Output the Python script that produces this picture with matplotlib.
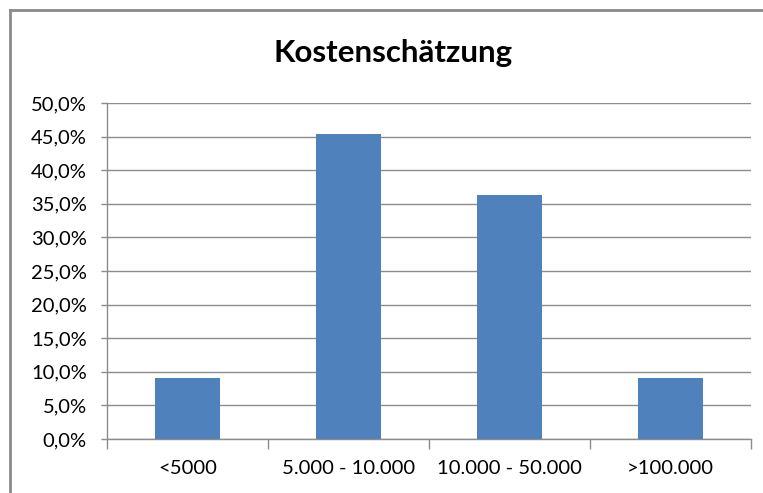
import matplotlib
matplotlib.use("Agg")
import matplotlib.pyplot as plt
from matplotlib.lines import Line2D
from matplotlib.ticker import FuncFormatter, MultipleLocator

categories = ["<5000", "5.000 - 10.000", "10.000 - 50.000", ">100.000"]
values = [9.09, 45.45, 36.36, 9.09]
title = "Kostenschätzung"

plt.rcParams['font.family'] = ['Lato', 'DejaVu Sans']

fig = plt.figure(figsize=(7.63, 4.93), dpi=100)
ax = fig.add_axes([107/763, 1 - 439/493, (751-107)/763, (439-103)/493])

x = list(range(len(categories)))
ax.bar(x, values, width=0.4, color="#4F81BD", zorder=3)
ax.set_xlim(-0.5, len(categories) - 0.5)
ax.set_ylim(0, 50)
ax.yaxis.set_major_locator(MultipleLocator(5))
ax.yaxis.set_major_formatter(FuncFormatter(lambda v, p: f"{v:.1f}".replace(".", ",") + "%"))
ax.grid(axis="y", color="#8c8c8c", linewidth=1, zorder=0)

ax.set_xticks(x)
ax.set_xticklabels(categories)
ax.set_xticks([i - 0.5 for i in range(len(categories) + 1)], minor=True)
ax.tick_params(axis="x", which="major", length=0, pad=15, labelsize=14.6)
ax.tick_params(axis="x", which="minor", length=7, color="#8c8c8c", width=1)
ax.tick_params(axis="y", length=4.5, color="#8c8c8c", width=1, labelsize=14.5, pad=10)

for s in ["top", "right"]:
    ax.spines[s].set_visible(False)
for s in ["left", "bottom"]:
    ax.spines[s].set_color("#8c8c8c")
    ax.spines[s].set_linewidth(1)

fig.text(393/763, 1 - 53/493, title, ha="center", va="center", fontsize=22.5, fontweight="bold")

# outer border (left and top visible)
fig.add_artist(Line2D([10/763, 10/763], [0, 1 - 10/493], transform=fig.transFigure, color="#8a8a8a", linewidth=2))
fig.add_artist(Line2D([10/763, 1], [1 - 10/493, 1 - 10/493], transform=fig.transFigure, color="#8a8a8a", linewidth=2))

fig.savefig("out.png", dpi=100)
